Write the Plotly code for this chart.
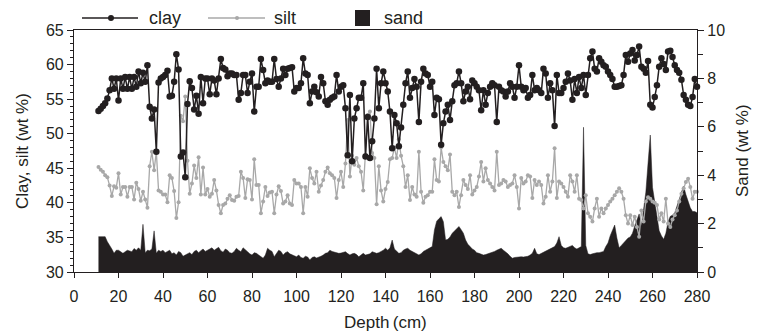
import plotly.graph_objects as go

depth_cm = list(range(11, 281))

clay = [
    53.3, 53.6, 54.0, 54.4, 55.1, 56.3, 58.0, 56.5, 58.0, 54.8,
    58.0, 56.5, 58.2, 56.5, 58.2, 56.5, 58.2, 56.8, 59.0, 57.3,
    58.8, 57.5, 59.9, 53.9, 52.2, 53.5, 47.4, 57.4, 58.0, 58.2,
    58.5, 59.1, 55.4, 55.5, 57.5, 61.5, 59.3, 46.7, 47.3, 43.7,
    54.3, 57.6, 56.6, 53.5, 55.5, 52.9, 58.2, 54.4, 58.0, 58.0,
    55.7, 58.0, 57.7, 55.7, 58.0, 60.8, 59.5, 59.3, 58.3, 58.7,
    58.7, 58.5, 58.5, 54.9, 55.9, 58.5, 58.5, 55.9, 57.5, 58.7,
    53.2, 56.8, 56.8, 60.8, 59.2, 57.3, 57.7, 57.5, 57.5, 60.8,
    57.9, 56.8, 58.0, 59.4, 58.5, 59.4, 59.5, 59.6, 56.1, 56.6,
    56.6, 57.3, 60.9, 58.7, 58.5, 54.4, 56.1, 56.8, 56.0, 55.4,
    58.2, 57.3, 54.7, 54.2, 54.9, 55.2, 55.4, 58.5, 56.1, 56.8,
    57.0, 53.7, 46.9, 55.6, 46.0, 52.2, 53.7, 55.2, 55.2, 57.3,
    46.7, 52.4, 46.5, 48.9, 52.2, 59.4, 53.7, 57.3, 59.0, 57.3,
    56.1, 53.2, 47.9, 52.7, 51.5, 48.2, 50.9, 54.2, 57.3, 59.0,
    55.2, 56.6, 57.9, 56.8, 51.7, 57.5, 59.4, 58.7, 58.5, 56.8,
    57.5, 52.7, 55.2, 55.0, 48.4, 51.5, 53.2, 54.2, 52.0, 54.7,
    57.0, 57.3, 59.0, 57.3, 54.7, 56.1, 56.8, 55.0, 57.7, 57.3,
    56.8, 56.3, 53.4, 56.3, 54.2, 55.9, 56.8, 57.3, 57.0, 51.7,
    56.8, 56.3, 56.1, 55.4, 56.1, 57.3, 56.8, 55.2, 56.8, 59.9,
    56.8, 56.3, 56.6, 55.2, 55.6, 58.5, 56.3, 56.6, 56.3, 55.9,
    59.4, 58.7, 55.2, 57.3, 56.3, 51.1, 58.5, 55.9, 55.9, 56.6,
    57.5, 58.7, 57.7, 54.9, 57.9, 55.9, 58.2, 56.6, 58.5, 55.6,
    58.5, 60.9, 61.9, 59.4, 59.0, 60.9, 60.4, 59.9, 59.7, 59.0,
    58.5, 57.9, 56.8, 56.8, 56.9, 57.0, 58.5, 61.4, 60.4, 61.6,
    62.1, 60.6, 61.4, 62.6, 59.7, 59.4, 58.8, 60.5, 54.2, 53.8,
    55.3, 57.0, 59.7, 60.9, 60.1, 59.2, 61.9, 62.0, 61.1, 59.9,
    59.2, 58.8, 57.8, 55.6, 54.9, 54.2, 54.0, 55.3, 57.9, 56.8,
]

silt = [
    45.2, 44.8, 44.5, 44.0, 43.7, 42.5, 41.0, 42.4, 42.2, 44.3,
    41.2, 42.3, 42.3, 40.9, 42.3, 42.3, 40.5, 42.9, 42.0, 40.3,
    41.6, 40.5, 39.3, 45.3, 47.4, 44.7, 47.4, 41.8, 41.6, 41.2,
    41.2, 40.1, 44.0, 43.6, 41.7, 37.8, 40.1, 52.6, 51.8, 55.4,
    46.1, 41.3, 42.8, 45.4, 43.6, 46.6, 41.2, 45.1, 41.2, 42.0,
    40.9, 41.3, 43.3, 41.8, 39.7, 38.5, 39.7, 39.9, 40.6, 41.1,
    40.4, 40.3, 40.9, 41.0, 44.5, 43.6, 40.7, 43.4, 43.3, 40.5,
    46.3, 42.6, 42.6, 38.5, 40.2, 42.3, 41.0, 41.5, 41.6, 38.5,
    41.2, 42.4, 41.7, 39.9, 40.2, 41.1, 39.9, 39.7, 43.3, 42.8,
    42.8, 42.3, 38.5, 42.3, 40.9, 45.0, 43.6, 42.8, 44.5, 41.6,
    42.5, 43.3, 44.5, 45.1, 44.3, 44.0, 43.6, 40.7, 43.3, 44.5,
    42.3, 45.7, 52.0, 43.8, 46.8, 45.5, 46.5, 45.3, 44.5, 41.8,
    47.0, 52.7, 53.2, 47.2, 46.5, 39.8, 45.3, 41.8, 40.2, 42.0,
    43.0, 46.3, 46.5, 48.0, 46.5, 49.2, 46.8, 45.3, 42.3, 44.0,
    40.4, 42.3, 41.2, 40.9, 47.4, 41.6, 40.0, 40.9, 41.1, 41.6,
    41.6, 46.3, 43.3, 43.1, 48.0, 45.9, 45.3, 44.7, 47.0, 41.6,
    41.1, 41.6, 39.4, 41.1, 43.3, 42.6, 42.0, 44.0, 41.2, 41.8,
    42.3, 43.8, 45.9, 43.1, 45.0, 43.3, 42.8, 42.3, 41.8, 47.4,
    42.6, 42.8, 43.3, 43.1, 42.3, 42.6, 42.8, 44.0, 42.3, 39.2,
    43.6, 42.8, 43.1, 44.0, 43.8, 40.7, 43.3, 42.6, 43.1, 42.6,
    39.9, 40.9, 44.0, 41.6, 43.1, 47.9, 40.7, 43.1, 42.8, 42.3,
    41.6, 40.9, 44.0, 43.1, 41.6, 44.0, 40.6, 40.4, 39.2, 41.1,
    38.5, 38.0, 37.3, 39.2, 40.6, 38.0, 39.2, 38.5, 39.2, 39.7,
    40.2, 40.6, 41.1, 41.6, 42.1, 41.6, 40.6, 38.2, 37.0, 38.2,
    36.8, 38.0, 36.5, 35.1, 38.9, 37.3, 40.2, 40.8, 40.6, 40.2,
    40.0, 39.7, 37.6, 38.5, 37.3, 40.6, 37.0, 36.5, 37.6, 38.2,
    38.9, 40.2, 41.3, 42.1, 43.0, 43.5, 42.3, 40.6, 41.6, 41.6,
]

sand = [
    1.46, 1.46, 1.46, 1.46, 1.25, 1.12, 0.95, 0.77, 0.90, 0.90,
    0.84, 0.77, 0.84, 0.90, 0.87, 0.84, 0.97, 0.90, 1.00, 0.90,
    1.97, 0.80, 0.90, 0.88, 0.95, 1.70, 0.77, 0.90, 0.85, 0.90,
    0.80, 0.85, 0.90, 0.75, 0.80, 0.70, 0.85, 0.80, 0.65, 0.70,
    0.75, 0.80, 0.72, 0.85, 0.90, 0.80, 0.88, 0.95, 0.85, 0.90,
    0.95, 1.00, 0.90, 0.95, 1.02, 0.88, 0.82, 0.95, 0.90, 0.80,
    0.77, 0.85, 0.98, 0.90, 0.84, 1.00, 0.90, 0.84, 0.75, 0.70,
    0.80, 0.77, 0.70, 0.65, 0.57, 0.70, 0.98, 0.90, 0.85, 0.63,
    0.75, 0.90, 0.85, 0.70, 0.80, 0.84, 0.75, 0.70, 0.65, 0.63,
    0.70, 0.60, 0.57, 0.65, 0.62, 0.50, 0.60, 0.63, 0.58, 0.60,
    0.65, 0.70, 0.77, 0.80, 0.90, 0.85, 0.82, 0.80, 0.77, 0.78,
    0.80, 0.84, 0.76, 0.70, 0.75, 0.77, 0.72, 0.63, 0.70, 0.77,
    0.70, 0.72, 0.75, 0.84, 0.80, 0.77, 0.80, 0.84, 0.90, 0.98,
    0.90, 1.00, 1.32, 0.95, 0.85, 0.77, 0.80, 0.90, 0.95, 0.98,
    0.90, 0.85, 0.80, 0.72, 0.70, 0.75, 0.85, 0.90, 0.95, 1.00,
    1.05, 1.74, 2.10, 2.20, 2.29, 2.08, 1.32, 1.35, 1.45, 1.60,
    1.70, 1.78, 1.88, 1.75, 1.60, 1.32, 1.15, 1.05, 0.95, 0.90,
    0.80, 0.77, 0.75, 0.70, 0.72, 0.75, 0.77, 0.80, 0.85, 0.90,
    0.95, 0.98, 0.90, 0.84, 0.75, 0.65, 0.57, 0.60, 0.62, 0.63,
    0.63, 0.62, 0.63, 0.65, 0.70, 0.77, 0.98, 0.75, 0.72, 0.77,
    0.80, 0.85, 0.90, 0.95, 1.00, 1.05, 1.20, 1.46, 1.10, 1.00,
    0.98, 1.02, 1.05, 1.10, 1.00, 0.95, 1.00, 1.05, 5.98, 1.10,
    0.75, 0.72, 0.75, 0.78, 0.80, 0.80, 0.82, 0.85, 1.05, 1.20,
    1.50, 1.75, 1.94, 1.40, 1.00, 1.10, 1.20, 1.30, 1.40, 1.45,
    1.60, 1.90, 2.15, 2.40, 1.90, 2.70, 3.30, 4.50, 5.66, 3.50,
    2.90, 2.10, 1.70, 1.50, 1.35, 1.60, 2.08, 2.30, 2.35, 2.45,
    2.70, 3.00, 3.30, 3.55, 3.20, 2.90, 2.65, 2.50, 2.50, 2.45,
]

x_ticks = list(range(0, 281, 20))
left_ticks = [30, 35, 40, 45, 50, 55, 60, 65]
right_ticks = [0, 2, 4, 6, 8, 10]

FONT = "Liberation Sans, Arial, sans-serif"
INK = "#231f20"
SILT_C = "#a8a8a8"

fig = go.Figure()

# Sand on base axis (drawn underneath)
fig.add_trace(go.Scatter(
    x=depth_cm, y=sand, mode="lines", fill="tozeroy",
    line=dict(color=INK, width=0.5), fillcolor=INK,
    yaxis="y", name="sand", showlegend=False,
))
# Silt & clay on overlay axis
fig.add_trace(go.Scatter(
    x=depth_cm, y=silt, mode="lines+markers",
    line=dict(color=SILT_C, width=1.3),
    marker=dict(color=SILT_C, size=4),
    yaxis="y2", name="silt", showlegend=False, cliponaxis=False,
))
fig.add_trace(go.Scatter(
    x=depth_cm, y=clay, mode="lines+markers",
    line=dict(color=INK, width=1.5),
    marker=dict(color=INK, size=6.5),
    yaxis="y2", name="clay", showlegend=False, cliponaxis=False,
))

fig.update_layout(
    width=758, height=335,
    margin=dict(l=74, r=61, t=30, b=63),
    paper_bgcolor="white", plot_bgcolor="white",
    font=dict(family=FONT, size=16, color=INK),
    showlegend=False,
    xaxis=dict(
        range=[0, 280], tickvals=x_ticks, ticks="outside", ticklen=5,
        tickwidth=1, tickcolor=INK, showline=True, linecolor=INK,
        linewidth=1.2, mirror=True, showgrid=False, zeroline=False,
        tickfont=dict(size=16), ticklabelstandoff=5,
    ),
    yaxis=dict(
        range=[0, 10], side="right", tickvals=right_ticks, ticks="outside",
        ticklen=6, tickwidth=1, tickcolor=INK, showline=True,
        linecolor=INK, linewidth=1.2, showgrid=False, zeroline=False,
        minor=dict(dtick=1, ticks="outside", ticklen=5, tickcolor=INK),
        tickfont=dict(size=16),
    ),
    yaxis2=dict(
        range=[30, 65], side="left", overlaying="y", tickvals=left_ticks,
        ticks="outside", ticklen=6, tickwidth=1, tickcolor=INK,
        showline=True, linecolor=INK, linewidth=1.2, showgrid=False,
        zeroline=False,
        minor=dict(dtick=1, ticks="outside", ticklen=3, tickcolor=INK),
        tickfont=dict(size=16),
    ),
)

def px_x(p):
    return (p - 74) / 623.0

def px_y(p):
    return (272 - p) / 242.0

# axis titles
fig.add_annotation(text="Depth\u2009(cm)", xref="paper", yref="paper",
                   x=px_x(385), y=px_y(322), yanchor="middle",
                   xanchor="center", showarrow=False, font=dict(size=17))
fig.add_annotation(text="Clay, silt (wt %)", xref="paper", yref="paper",
                   x=px_x(22), y=0.5, textangle=-90, xanchor="center",
                   showarrow=False, font=dict(size=17))
fig.add_annotation(text="Sand (wt %)", xref="paper", yref="paper",
                   x=px_x(742), y=0.5, textangle=-90, xanchor="center",
                   showarrow=False, font=dict(size=17))

# manual legend (paper coords)
ly = px_y(18)
fig.add_shape(type="line", xref="paper", yref="paper",
              x0=px_x(82), x1=px_x(138), y0=ly, y1=ly,
              line=dict(color=INK, width=1.4))
fig.add_shape(type="circle", xref="paper", yref="paper",
              xsizemode="pixel", ysizemode="pixel",
              xanchor=px_x(111), yanchor=ly, x0=-3, x1=3, y0=-3, y1=3,
              fillcolor=INK, line=dict(color=INK, width=0))
fig.add_annotation(text="clay", xref="paper", yref="paper",
                   x=px_x(147), y=ly, xanchor="left", yanchor="middle",
                   showarrow=False, font=dict(size=18))
fig.add_shape(type="line", xref="paper", yref="paper",
              x0=px_x(208), x1=px_x(265), y0=ly, y1=ly,
              line=dict(color=SILT_C, width=1.3))
fig.add_shape(type="circle", xref="paper", yref="paper",
              xsizemode="pixel", ysizemode="pixel",
              xanchor=px_x(237), yanchor=ly, x0=-2, x1=2, y0=-2, y1=2,
              fillcolor=SILT_C, line=dict(color=SILT_C, width=0))
fig.add_annotation(text="silt", xref="paper", yref="paper",
                   x=px_x(272), y=ly, xanchor="left", yanchor="middle",
                   showarrow=False, font=dict(size=18))
fig.add_shape(type="rect", xref="paper", yref="paper",
              x0=px_x(355), x1=px_x(370), y0=px_y(26), y1=px_y(10),
              fillcolor=INK, line=dict(color=INK, width=0))
fig.add_annotation(text="sand", xref="paper", yref="paper",
                   x=px_x(382), y=ly, xanchor="left", yanchor="middle",
                   showarrow=False, font=dict(size=18))

fig.write_html(
    "out.html",
    config={"displayModeBar": False},
    post_script="document.body.style.margin='0';document.body.style.padding='0';",
)
